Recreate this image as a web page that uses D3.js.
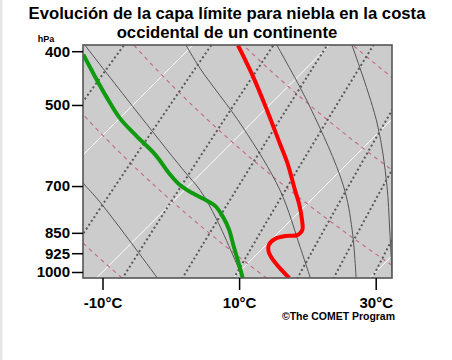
<!DOCTYPE html>
<html><head><meta charset="utf-8">
<script src="https://cdn.jsdelivr.net/npm/d3@7"></script>
<style>
body{margin:0;background:#fff;}
svg{display:block;}
text{font-family:"Liberation Sans",Arial,Helvetica,sans-serif;font-weight:bold;}
</style></head><body>
<svg id="c" width="452" height="360"></svg>
<script>
// ---- data ----
const titleLines = ["Evolución de la capa límite para niebla en la costa", "occidental de un continente"];
const pressureTicks = [400, 500, 700, 850, 925, 1000];
const tempTicks = [-10, 10, 30];
const isotherms = [-50, -30, -10, 10, 30, 50];
const dryAdiabatsK = [265, 286, 307, 328, 349];
const mixingRatios = [0.3, 1.05, 2.35, 4.5, 7.6, 14, 19.5, 27.5];
// saturated adiabats: [pressure hPa, temperature °C]
const moistA = [[655, -29.3], [691, -25.9], [747, -20.7], [1025, -1.1]];
const moistB = [[390, -45.8], [504, -29.7], [655, -13.1], [712, -7.7], [806, -0.85], [1025, 11.4]];
const moistC = [[390, -31.0], [429, -25.6], [548, -10.7], [712, 4.0], [902, 15.3], [1025, 21.3]];
const moistD = [[390, -17.7], [504, -3.8], [697, 12.5], [840, 20.4], [1025, 28.0]];
const moistE = [[390, -6.7], [539, 8.4], [697, 18.9], [840, 25.9], [1025, 33.3]];
// temperature profile (red)
const tempP = [390, 445, 511, 586, 636, 712, 757, 806, 840, 858, 861, 872, 894, 920, 951, 984, 1025];
const tempT = [-23.4, -16.5, -9.6, -2.9, 1.1, 6.2, 9.0, 11.6, 13.1, 13.1, 11.6, 10.4, 10.4, 11.4, 13.2, 15.4, 18.2];
// dew point profile (green)
const dewP = [406, 438, 484, 528, 569, 615, 666, 697, 720, 739, 760, 793, 840, 894, 959, 1025];
const dewT = [-44.6, -40.5, -35.0, -30.0, -24.9, -19.4, -14.5, -11.4, -8.5, -5.8, -3.2, -0.6, 2.4, 5.2, 8.4, 11.4];

// ---- layout ----
const L = 83, R = 392, T = 45, B = 278;
const svg = d3.select("#c");
const y = d3.scaleLog().domain([1000, 400]).range([272, 51.2]);
const x = d3.scaleLinear().domain([-10, 30]).range([102.5, 375.7]);
const pTop = y.invert(T - 5), pBot = y.invert(B + 5);
const skew = (t, p) => x(t) + (y(1000) - y(p));

svg.append("rect").attr("x", 0).attr("y", 0).attr("width", 2.5).attr("height", 360).attr("fill", "#e6e6e6");

svg.append("defs").append("clipPath").attr("id", "clip")
  .append("rect").attr("x", L).attr("y", T).attr("width", R - L).attr("height", B - T);

svg.append("rect").attr("x", L).attr("y", T).attr("width", R - L).attr("height", B - T).attr("fill", "#cccccc");

const g = svg.append("g").attr("clip-path", "url(#clip)");
const line = d3.line().x(d => skew(d[0], d[1])).y(d => y(d[1]));

const pLevels = d3.range(0, 81).map(i => Math.exp(Math.log(pBot) + (Math.log(pTop) - Math.log(pBot)) * i / 80));

// isotherms
g.selectAll(".iso").data(isotherms).enter().append("path")
  .attr("d", t => line([[t, pBot], [t, pTop]]))
  .attr("fill", "none").attr("stroke", "#ffffff").attr("stroke-width", 1);

// dry adiabats
g.selectAll(".dry").data(dryAdiabatsK).enter().append("path")
  .attr("d", th => line(pLevels.map(p => [th * Math.pow(p / 1000, 0.286) - 273.15, p])))
  .attr("fill", "none").attr("stroke", "#c4668a").attr("stroke-width", 1.1).attr("stroke-dasharray", "4,4");

// saturated adiabats
const curveLine = d3.line().x(d => skew(d[1], d[0])).y(d => y(d[0])).curve(d3.curveCatmullRom.alpha(0.5));
g.selectAll(".moist").data([moistA, moistB, moistC, moistD, moistE]).enter().append("path")
  .attr("d", d => curveLine(d))
  .attr("fill", "none").attr("stroke", "#555555").attr("stroke-width", 1);

// mixing ratio lines
function tw(w, p) { const e = w * p / (622 + w); const a = Math.log(e / 6.112); return 243.5 * a / (17.67 - a); }
g.selectAll(".mix").data(mixingRatios).enter().append("path")
  .attr("d", w => line(pLevels.map(p => [tw(w, p), p])))
  .attr("fill", "none").attr("stroke", "#5a5a5a").attr("stroke-width", 2).attr("stroke-dasharray", "2,2.6");

// profiles
const prof = d3.line().x(d => skew(d[0], d[1])).y(d => y(d[1])).curve(d3.curveCatmullRom.alpha(0.5));
g.append("path").attr("d", prof(dewP.map((p, i) => [dewT[i], p])))
  .attr("fill", "none").attr("stroke", "#109a10").attr("stroke-width", 4);
g.append("path").attr("d", prof(tempP.map((p, i) => [tempT[i], p])))
  .attr("fill", "none").attr("stroke", "#ff0000").attr("stroke-width", 4);

// frame
svg.append("rect").attr("x", L).attr("y", T).attr("width", R - L).attr("height", B - T)
  .attr("fill", "none").attr("stroke", "#555555").attr("stroke-width", 1.6);

// axes
const ya = svg.append("g").attr("transform", `translate(${L},0)`)
  .call(d3.axisLeft(y).tickValues(pressureTicks).tickSize(11).tickPadding(2).tickFormat(d3.format("d")));
ya.select(".domain").remove();
ya.selectAll("line").attr("stroke", "#000").attr("stroke-width", 1.5);
ya.selectAll("text").attr("font-size", "15px").attr("fill", "#000").attr("font-family", null);

const xa = svg.append("g").attr("transform", `translate(0,${B})`)
  .call(d3.axisBottom(x).tickValues(tempTicks).tickSize(12).tickPadding(7).tickFormat(d => d + "°C"));
xa.select(".domain").remove();
xa.selectAll("line").attr("stroke", "#000").attr("stroke-width", 1.5);
xa.selectAll("text").attr("font-size", "15px").attr("fill", "#000").attr("font-family", null);

// titles
svg.selectAll(".title").data(titleLines).enter().append("text")
  .attr("x", 227).attr("y", (d, i) => 19 + i * 19).attr("text-anchor", "middle")
  .attr("font-size", "16.7px").attr("fill", "#000").text(d => d);
svg.append("text").attr("x", 46).attr("y", 41.5).attr("text-anchor", "middle")
  .attr("font-size", "9px").attr("fill", "#000").text("hPa");
svg.append("text").attr("x", 395).attr("y", 320).attr("text-anchor", "end")
  .attr("font-size", "10px").attr("textLength", 113).attr("lengthAdjust", "spacingAndGlyphs")
  .attr("fill", "#000").text("©The COMET Program");
</script>
</body></html>
